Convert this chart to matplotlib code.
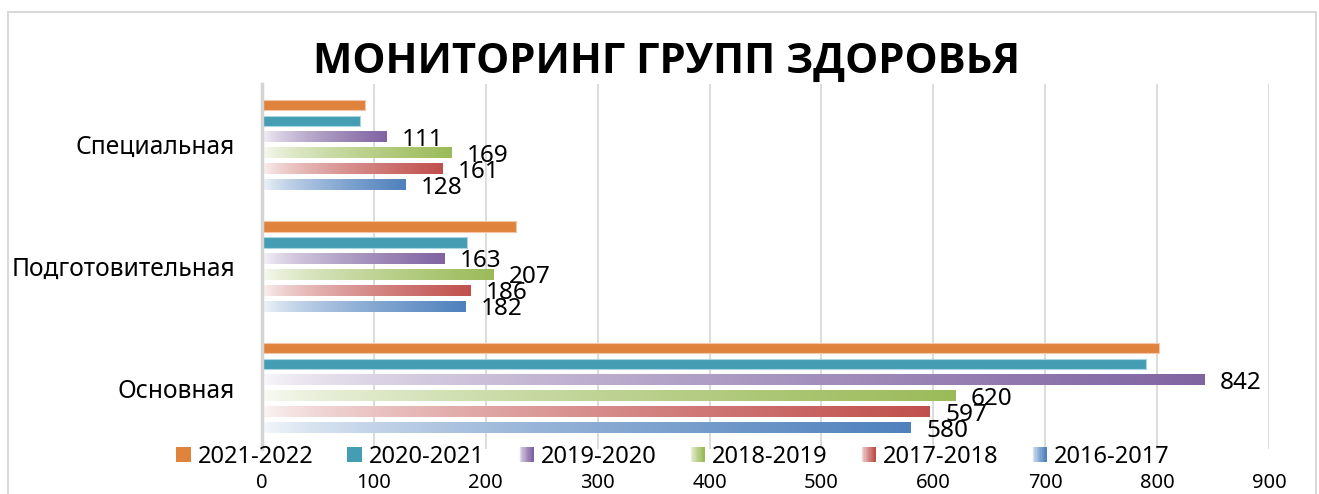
import numpy as np
import matplotlib
matplotlib.use("Agg")
import matplotlib.pyplot as plt
from matplotlib.patches import Rectangle
from matplotlib.legend_handler import HandlerBase
from matplotlib.colors import to_rgb

plt.rcParams["font.family"] = ["Noto Sans", "DejaVu Sans"]

W, H = 1319, 494

# ---- data ----
categories = ["Основная", "Подготовительная", "Специальная"]
seasons = ["2021-2022", "2020-2021", "2019-2020", "2018-2019", "2017-2018", "2016-2017"]
v_2021_2022 = [802, 227, 92]
v_2020_2021 = [790, 183, 88]
v_2019_2020 = [842, 163, 111]
v_2018_2019 = [620, 207, 169]
v_2017_2018 = [597, 186, 161]
v_2016_2017 = [580, 182, 128]
x_ticks = [0, 100, 200, 300, 400, 500, 600, 700, 800, 900]

values = [v_2021_2022, v_2020_2021, v_2019_2020, v_2018_2019, v_2017_2018, v_2016_2017]
colors = ["#DF833D", "#449DB2", "#8064A2", "#9BBB59", "#C0504D", "#4F81BD"]
gradient = [False, False, True, True, True, True]
labelled = [False, False, True, True, True, True]

SLOT = 0.1315
BAR_H = 0.085


def grad_img(color, n=256):
    # white -> series colour, left to right
    t = np.linspace(0, 1, n)
    f = 0.04 + 0.96 * t ** 0.65
    c = np.array(to_rgb(color))
    rgb = (1 - f)[:, None] * np.ones(3) + f[:, None] * c
    return rgb[None, :, :]


fig = plt.figure(figsize=(W / 100, H / 100), dpi=100)
ax = fig.add_axes([262 / W, (H - 449) / H, 1007 / W, (449 - 84) / H])

y_base = np.arange(len(categories))
for i, (vals, col, g, lab) in enumerate(zip(values, colors, gradient, labelled)):
    off = (2.5 - i) * SLOT
    for j, v in enumerate(vals):
        yc = y_base[j] + off
        if g:
            ax.imshow(grad_img(col), extent=[0, v, yc - BAR_H / 2, yc + BAR_H / 2],
                      aspect="auto", interpolation="bilinear", zorder=3)
        else:
            ax.barh(yc, v, height=BAR_H, color=col, edgecolor="#F2C6A8" if i == 0 else "#A9D6E2",
                    linewidth=0.8, zorder=3)
        if lab:
            ax.annotate(str(v), (v, yc), xytext=(11, -2), textcoords="offset points",
                        ha="left", va="center", fontsize=17.5, color="black", zorder=4)

ax.set_xlim(0, 900)
ax.set_ylim(-0.5, 2.5)
ax.set_xticks(x_ticks)
ax.set_xticklabels([str(t) for t in x_ticks], fontsize=14.5)
ax.set_yticks(y_base)
ax.set_yticklabels(categories, fontsize=17.7)
ax.tick_params(axis="x", length=0, pad=17)
ax.tick_params(axis="y", length=0, pad=19.5)
ax.grid(axis="x", color="#D9D9D9", lw=1.3, zorder=0)
ax.set_axisbelow(True)
for s in ["top", "right", "bottom"]:
    ax.spines[s].set_visible(False)
ax.spines["left"].set_color("#D4D4D4")
ax.spines["left"].set_linewidth(2.5)
ax.spines["left"].set_zorder(5)

fig.text(667 / W, 1 - 62 / H, "МОНИТОРИНГ ГРУПП ЗДОРОВЬЯ", ha="center", va="center",
         fontsize=30.1, fontweight="bold", color="black",
         family=["Open Sans", "DejaVu Sans"])


class SwatchHandler(HandlerBase):
    def __init__(self, color, grad):
        super().__init__()
        self.color = color
        self.grad = grad

    def create_artists(self, legend, orig_handle, xdescent, ydescent, width, height, fontsize, trans):
        side = height * 1.0
        x0 = -xdescent + width - side
        y0 = -ydescent
        if not self.grad:
            return [Rectangle((x0, y0), side, side, facecolor=self.color, edgecolor="none",
                              transform=trans)]
        arts = []
        n = 12
        img = grad_img(self.color, n)[0]
        for k in range(n):
            arts.append(Rectangle((x0 + side * k / n, y0), side / n + 0.3, side,
                                  facecolor=img[k], edgecolor="none", transform=trans))
        return arts


handles = [Rectangle((0, 0), 1, 1) for _ in seasons]
hmap = {h: SwatchHandler(c, g) for h, c, g in zip(handles, colors, gradient)}
fig.legend(handles, seasons, handler_map=hmap, loc="center", ncol=6,
           bbox_to_anchor=(673 / W, 1 - 457 / H), frameon=False, fontsize=17,
           handlelength=0.6, handleheight=0.6, handletextpad=0.3, columnspacing=1.45,
           borderpad=0)

fig.add_artist(Rectangle((8 / W, -0.05), (1316 - 8) / W, (494 - 12) / H + 0.05,
                         transform=fig.transFigure, fill=False, edgecolor="#D9D9D9", lw=1.5))

fig.savefig("out.png", dpi=100)
